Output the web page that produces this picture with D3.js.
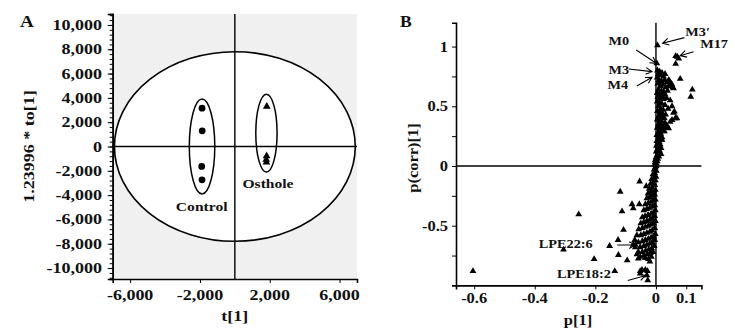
<!DOCTYPE html>
<html><head><meta charset="utf-8">
<script src="https://cdn.jsdelivr.net/npm/d3@7"></script>
<style>html,body{margin:0;padding:0;background:#fff}svg{display:block}text{font-family:"Liberation Serif","Times New Roman",serif;font-weight:bold;fill:#111}</style>
</head><body>
<svg id="c" width="735" height="335"></svg>
<script>
// ---------- Panel A data (OPLS-DA score plot) ----------
const controlPts = [[-1880,3150],[-1870,1290],[-1900,-1640],[-1880,-2740]];
const ostholePts = [[1830,3290],[1820,-780],[1800,-1080],[1810,-1300]];
const hotelling = {rx:6900, ry:7800};
const controlEllipse = {cx:-1880, cy:0, rx:730, ry:3900};
const ostholeEllipse = {cx:1810, cy:1100, rx:610, ry:3200};
const groupLabels = [{t:"Control",x:-1900,y:-5300},{t:"Osthole",x:1900,y:-3400}];
const aXTicks = [-6000,-2000,2000,6000];
const aYTicks = [-10000,-8000,-6000,-4000,-2000,0,2000,4000,6000,8000,10000];

// ---------- Panel B data (S-plot) ----------
const outliersNeg = [[-0.604,-0.88],[-0.255,-0.405],[-0.305,-0.70],[-0.204,-0.78],[-0.153,-0.67],[-0.125,-0.62],[-0.124,-0.745],[-0.136,-0.88],[-0.118,-0.215],[-0.112,-0.38],[-0.107,-0.535],[-0.095,-0.79],[-0.079,-0.32],[-0.075,-0.355],[-0.054,-0.13],[-0.055,-0.32],[-0.058,-0.775],[-0.052,-0.88],[-0.035,-0.87],[-0.028,-0.88],[-0.03,-0.915],[-0.027,-0.957],[-0.052,-0.9],[-0.063,-0.74],[-0.046,-0.87],[-0.032,-0.17],[-0.068,-0.66]];
const outliersPos = [[0.005,1.01],[0.003,0.86],[0.065,0.92],[0.07,0.915],[0.075,0.9],[0.065,0.855],[0.08,0.73],[0.12,0.64],[0.115,0.58],[0.042,0.72],[0.053,0.68],[0.058,0.65],[0.047,0.55],[0.053,0.5],[0.058,0.445],[0.064,0.40],[0.047,0.37],[0.036,0.32],[0.025,0.29],[0.02,0.22],[0.017,0.1],[0.061,0.455],[0.069,0.4],[0.053,0.385],[0.042,0.315],[0.036,0.34]];
const bandPos = [[0.005,0.8],[0.012,0.79],[0.02,0.78],[0.008,0.77],[0.015,0.76],[0.025,0.75],[0.03,0.77],[0.004,0.74],[0.01,0.72],[0.018,0.71],[0.028,0.72],[0.036,0.7],[0.045,0.71],[0.05,0.69],[0.006,0.69],[0.014,0.67],[0.022,0.68],[0.032,0.66],[0.042,0.67],[0.055,0.66],[0.008,0.64],[0.018,0.63],[0.026,0.62],[0.038,0.63],[0.004,0.61],[0.012,0.6],[0.02,0.59],[0.03,0.6],
[0.006,0.58],[0.015,0.57],[0.025,0.56],[0.035,0.57],[0.004,0.54],[0.012,0.53],[0.02,0.52],[0.03,0.51],[0.008,0.5],[0.016,0.48],[0.024,0.47],[0.04,0.48],[0.005,0.46],[0.013,0.45],[0.022,0.44],[0.032,0.43],[0.009,0.42],[0.018,0.41],[0.028,0.4],
[0.004,0.39],[0.012,0.38],[0.02,0.37],[0.03,0.36],[0.008,0.35],[0.016,0.34],[0.024,0.33],[0.004,0.32],[0.012,0.31],[0.02,0.3],[0.028,0.29],[0.008,0.28],[0.016,0.27],[0.003,0.26],[0.011,0.25],[0.02,0.24],[0.007,0.23],[0.015,0.22],[0.003,0.21],[0.011,0.2],
[0.006,0.19],[0.014,0.18],[0.002,0.17],[0.009,0.16],[0.017,0.15],[0.005,0.14],[0.012,0.13],[0.001,0.12],[0.008,0.11],[0.004,0.09],[0.01,0.08],[0,0.07],[0.006,0.06],[-0.002,0.05],[0.004,0.04],[-0.003,0.03],[0.002,0.02],[-0.004,0.01],[0.001,0.0]];
const bandNeg = [[-0.002,-0.01],[-0.006,-0.03],[0.001,-0.04],[-0.004,-0.06],[-0.01,-0.07],[0,-0.09],[-0.007,-0.1],[-0.014,-0.11],[-0.002,-0.12],[-0.01,-0.14],[-0.018,-0.15],[-0.004,-0.16],[-0.013,-0.18],[-0.022,-0.19],[-0.002,-0.2],[-0.008,-0.21],[-0.017,-0.22],[-0.026,-0.23],[-0.004,-0.24],[-0.012,-0.25],[-0.02,-0.26],[-0.03,-0.27],[-0.002,-0.28],[-0.008,-0.29],[-0.016,-0.3],[-0.025,-0.31],[-0.035,-0.32],
[-0.004,-0.33],[-0.012,-0.34],[-0.02,-0.35],[-0.03,-0.36],[-0.04,-0.37],[-0.002,-0.37],[-0.008,-0.39],[-0.016,-0.4],[-0.026,-0.41],[-0.036,-0.42],[-0.045,-0.43],[-0.004,-0.42],[-0.012,-0.44],[-0.02,-0.45],[-0.03,-0.46],[-0.04,-0.47],[-0.05,-0.48],[-0.002,-0.46],[-0.008,-0.48],[-0.016,-0.49],[-0.025,-0.5],[-0.035,-0.51],[-0.045,-0.52],[-0.057,-0.53],
[-0.004,-0.52],[-0.012,-0.54],[-0.02,-0.55],[-0.03,-0.56],[-0.04,-0.57],[-0.05,-0.58],[-0.063,-0.58],[-0.002,-0.57],[-0.008,-0.59],[-0.016,-0.6],[-0.025,-0.61],[-0.035,-0.62],[-0.045,-0.63],[-0.058,-0.64],[-0.07,-0.62],[-0.004,-0.62],[-0.012,-0.64],[-0.02,-0.65],[-0.03,-0.66],[-0.04,-0.67],[-0.052,-0.68],[-0.068,-0.68],[-0.075,-0.66],[-0.006,-0.67],[-0.014,-0.69],[-0.024,-0.7],
[-0.034,-0.71],[-0.045,-0.72],[-0.058,-0.72],[-0.01,-0.72],[-0.018,-0.73],[-0.028,-0.74],[-0.04,-0.75],[-0.052,-0.76],[-0.015,-0.76],[-0.025,-0.78],[-0.035,-0.77],[-0.02,-0.8]];
const annotations = [
 {t:"M3\u2032", tx:0.097, ty:1.089, from:[0.094,1.075], to:[0.022,1.028]},
 {t:"M17", tx:0.146, ty:0.988, from:[0.124,0.957], to:[0.08,0.924]},
 {t:"M0", tx:-0.157, ty:1.013, from:[-0.065,0.972], to:[0.001,0.86]},
 {t:"M3", tx:-0.157, ty:0.77, from:[-0.09,0.812], to:[-0.013,0.79]},
 {t:"M4", tx:-0.16, ty:0.645, from:[-0.063,0.67], to:[-0.013,0.743]},
 {t:"LPE22:6", tx:-0.387, ty:-0.687, from:[-0.128,-0.662], to:[-0.068,-0.662]},
 {t:"LPE18:2", tx:-0.327, ty:-0.938, from:[-0.093,-0.959], to:[-0.034,-0.917]}
];
const bXTicks = [-0.6,-0.4,-0.2,0,0.1];
const bYTicks = [-0.5,0,0.5,1];
const bYMinor = [-0.75,-0.25,0.25,0.75];

const svg = d3.select("#c");
const fontS = "Liberation Serif";

// ================= Panel A =================
const ax = d3.scaleLinear().domain([-7000,7000]).range([112.7,357]);
const ay = d3.scaleLinear().domain([-10900,10900]).range([279,14]);
const A = svg.append("g");
A.append("rect").attr("x",ax(-7000)).attr("y",ay(10900)).attr("width",ax(7000)-ax(-7000)).attr("height",ay(-10900)-ay(10900)).attr("fill","#f0f0f0");
A.append("ellipse").attr("cx",ax(0)).attr("cy",ay(0)).attr("rx",ax(hotelling.rx)-ax(0)).attr("ry",ay(0)-ay(hotelling.ry)).attr("fill","#fff").attr("stroke","#000").attr("stroke-width",1.6);
A.append("line").attr("x1",ax(0)).attr("x2",ax(0)).attr("y1",ay(10900)).attr("y2",ay(-10900)).attr("stroke","#000").attr("stroke-width",1.4);
A.append("line").attr("x1",ax(-7000)).attr("x2",ax(7000)).attr("y1",ay(0)).attr("y2",ay(0)).attr("stroke","#000").attr("stroke-width",1.4);
[controlEllipse,ostholeEllipse].forEach(e=>{
  A.append("ellipse").attr("cx",ax(e.cx)).attr("cy",ay(e.cy)).attr("rx",ax(e.cx+e.rx)-ax(e.cx)).attr("ry",ay(e.cy)-ay(e.cy+e.ry)).attr("fill","none").attr("stroke","#000").attr("stroke-width",1.5);
});
A.selectAll("circle.c").data(controlPts).join("circle").attr("cx",d=>ax(d[0])).attr("cy",d=>ay(d[1])).attr("r",3.4).attr("fill","#000");
A.selectAll("path.o").data(ostholePts).join("path").attr("d",d3.symbol(d3.symbolTriangle).size(26)).attr("transform",d=>`translate(${ax(d[0])},${ay(d[1])})`).attr("fill","#000");
function stext(g,txt,x,y,size,anchor,rot){
  return g.append("text").attr("transform",`translate(${x},${y})${rot?" rotate(-90)":""} scale(1.2,1)`).attr("text-anchor",anchor||"start").attr("font-size",size).text(txt);
}
groupLabels.forEach(l=>stext(A,l.t,ax(l.x),ay(l.y),13,"middle"));
// axes A
const yAxisA = d3.axisLeft(ay).tickValues(aYTicks).tickSize(5).tickFormat("");
const gya = A.append("g").attr("transform",`translate(${ax(-7000)},0)`).call(yAxisA);
const minorY = d3.range(-10800,10801,400);
A.append("g").attr("transform",`translate(${ax(-7000)},0)`).call(d3.axisLeft(ay).tickValues(minorY).tickSize(3).tickFormat(""));
const gxa = A.append("g").attr("transform",`translate(0,${ay(-10900)})`).call(d3.axisBottom(ax).tickValues(aXTicks).tickSize(4).tickFormat(""));
A.selectAll(".domain").attr("stroke","#000").attr("stroke-width",1.6);
A.selectAll(".tick line").attr("stroke","#000").attr("stroke-width",1);
const fmt = d3.format(",");
aYTicks.forEach(v=>stext(A,fmt(v).replace("\u2212","-"),102,ay(v)+5,15,"end"));
aXTicks.forEach(v=>stext(A,fmt(v).replace("\u2212","-"),ax(v),300,15,"middle"));
stext(A,"t[1]",ax(0),321,15,"middle");
stext(A,"1.23996 * to[1]",34,ay(0),15,"middle",true);
stext(A,"A",20,27,16,"start");

// ================= Panel B =================
const bx = d3.scaleLinear().domain([-0.66,0.15]).range([456,701.4]);
const by = d3.scaleLinear().domain([-1,1.2]).range([285.4,22.7]);
const B = svg.append("g");
B.append("line").attr("x1",bx(0)).attr("x2",bx(0)).attr("y1",by(1.2)).attr("y2",by(-1)).attr("stroke","#000").attr("stroke-width",1.4);
B.append("line").attr("x1",bx(-0.66)).attr("x2",bx(0.15)).attr("y1",by(0)).attr("y2",by(0)).attr("stroke","#000").attr("stroke-width",1.4);
const allTri = [].concat(bandPos,bandNeg,outliersPos,outliersNeg);
B.selectAll("path.t").data(allTri).join("path").attr("d",d3.symbol(d3.symbolTriangle).size(20)).attr("transform",d=>`translate(${bx(d[0])},${by(d[1])})`).attr("fill","#000");
B.append("g").attr("transform",`translate(${bx(-0.66)},0)`).call(d3.axisLeft(by).tickValues(bYTicks.concat(bYMinor)).tickSize(4).tickFormat(""));
B.append("g").attr("transform",`translate(0,${by(-1)})`).call(d3.axisBottom(bx).tickValues(bXTicks).tickSize(4).tickFormat(""));
B.selectAll(".domain").attr("stroke","#000").attr("stroke-width",1.6);
B.selectAll(".tick line").attr("stroke","#000").attr("stroke-width",1);
function btext(txt,x,y,size,anchor,rot){
  return B.append("text").attr("transform",`translate(${x},${y})${rot?" rotate(-90)":""} scale(1.1,1)`).attr("text-anchor",anchor||"start").attr("font-size",size).text(txt);
}
bYTicks.forEach(v=>btext(String(v).replace("\u2212","-"),448,by(v)+5,15,"end"));
bXTicks.forEach(v=>btext(String(v),bx(v),303,15,"middle"));
btext("p[1]",578,325,15,"middle");
btext("p(corr)[1]",418,by(0)-8,15,"middle",true);
btext("B",400,27,16,"start");
// annotations
annotations.forEach(a=>{
  btext(a.t,bx(a.tx),by(a.ty),13,"start");
  const x1=bx(a.from[0]),y1=by(a.from[1]),x2=bx(a.to[0]),y2=by(a.to[1]);
  const ang=Math.atan2(y2-y1,x2-x1), L=7, w=0.5;
  const p=`M${x1},${y1}L${x2},${y2}M${x2-L*Math.cos(ang-w)},${y2-L*Math.sin(ang-w)}L${x2},${y2}L${x2-L*Math.cos(ang+w)},${y2-L*Math.sin(ang+w)}`;
  B.append("path").attr("d",p).attr("fill","none").attr("stroke","#000").attr("stroke-width",1.1);
});
</script>
</body></html>
